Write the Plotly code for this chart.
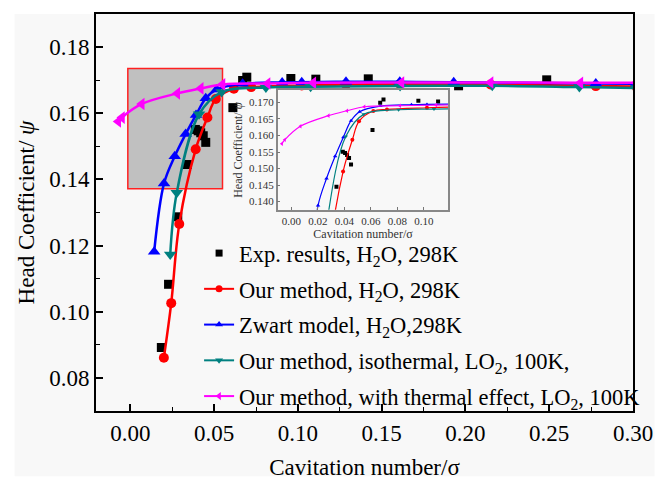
import plotly.graph_objects as go

# ---------------- data ----------------
sigma_exp = [0.0185, 0.0228, 0.0283, 0.0340, 0.0388, 0.0405, 0.0420, 0.0435, 0.0450,
             0.0612, 0.0670, 0.0695, 0.0958, 0.1107, 0.1420, 0.1959, 0.2485]
psi_exp = [0.0892, 0.1083, 0.1287, 0.1445, 0.1551, 0.1547, 0.1541, 0.1532, 0.1512,
           0.1617, 0.1699, 0.1709, 0.1705, 0.1703, 0.1704, 0.1683, 0.1701]

sigma_red = [0.0200, 0.0244, 0.0292, 0.0390, 0.0460, 0.0510, 0.0618, 0.0721, 0.1023,
             0.1287, 0.1610, 0.2150, 0.2778, 0.3020]
psi_red = [0.0861, 0.1026, 0.1265, 0.1491, 0.1587, 0.1643, 0.1674, 0.1679, 0.1684,
           0.1687, 0.1688, 0.1687, 0.1682, 0.1681]

sigma_blue = [0.0142, 0.0201, 0.0265, 0.0330, 0.0392, 0.0450, 0.0515, 0.0670, 0.0906,
              0.1023, 0.1287, 0.1608, 0.1930, 0.2778, 0.3020]
psi_blue = [0.1181, 0.1388, 0.1470, 0.1537, 0.1595, 0.1645, 0.1672, 0.1689, 0.1693,
            0.1694, 0.1695, 0.1695, 0.1694, 0.1690, 0.1689]

sigma_teal = [0.0238, 0.0277, 0.0410, 0.0545, 0.0809, 0.1076, 0.1610, 0.2160, 0.2680, 0.3020]
psi_teal = [0.1173, 0.1360, 0.1597, 0.1664, 0.1678, 0.1680, 0.1682, 0.1683, 0.1679, 0.1676]

sigma_mag = [-0.0072, -0.0050, 0.0068, 0.0280, 0.0420, 0.0550, 0.0819, 0.1092, 0.1618,
             0.2150, 0.2686, 0.3020]
psi_mag = [0.1575, 0.1587, 0.1628, 0.1660, 0.1675, 0.1687, 0.1690, 0.1692, 0.1693,
           0.1693, 0.1692, 0.1692]

names = [
    "Exp. results, H<sub>2</sub>O, 298K",
    "Our method, H<sub>2</sub>O, 298K",
    "Zwart model, H<sub>2</sub>O,298K",
    "Our method, isothermal, LO<sub>2</sub>, 100K,",
    "Our method, with thermal effect, LO<sub>2</sub>, 100K",
]

main_xticks = [0.00, 0.05, 0.10, 0.15, 0.20, 0.25, 0.30]
main_yticks = [0.08, 0.10, 0.12, 0.14, 0.16, 0.18]
inset_xticks = [0.00, 0.02, 0.04, 0.06, 0.08, 0.10]
inset_yticks = [0.140, 0.145, 0.150, 0.155, 0.160, 0.165, 0.170]

# ---------------- styling ----------------
FONT = "Liberation Serif, Times New Roman, serif"
series = [
    (sigma_exp, psi_exp, "#000000", "square", "markers", 9),
    (sigma_red, psi_red, "#ff0000", "circle", "lines+markers", 10),
    (sigma_blue, psi_blue, "#0000ff", "triangle-up", "lines+markers", 11),
    (sigma_teal, psi_teal, "#008080", "triangle-down", "lines+markers", 11),
    (sigma_mag, psi_mag, "#ff00ff", "triangle-left", "lines+markers", 11),
]

fig = go.Figure()

# main traces
for (sx, sy, col, sym, mode, ms) in series:
    fig.add_trace(go.Scatter(
        x=sx, y=sy, mode=mode, showlegend=False,
        line=dict(color=col, width=2.5, shape="spline", smoothing=1.0),
        marker=dict(color=col, symbol=sym, size=ms),
        xaxis="x", yaxis="y"))

# inset traces
for (sx, sy, col, sym, mode, ms) in series:
    fig.add_trace(go.Scatter(
        x=sx, y=sy, mode=mode, showlegend=False,
        line=dict(color=col, width=1.2, shape="spline", smoothing=1.0),
        marker=dict(color=col, symbol=sym, size=4),
        xaxis="x2", yaxis="y2"))

# legend entries
for i, (sx, sy, col, sym, mode, ms) in enumerate(series):
    fig.add_trace(go.Scatter(
        x=[None], y=[None], mode=mode, name=names[i], legendgroup=f"g{i}",
        line=dict(color=col, width=2),
        marker=dict(color=col, symbol=sym, size=7),
        xaxis="x", yaxis="y"))

W, H = 665, 488
L, R, T, B = 96, 22, 13, 67
pw, ph = W - L - R, H - T - B


def px2paper_x(p):
    return (p - L) / pw


def px2paper_y(p):
    return (H - B - p) / ph


fig.update_layout(
    width=W, height=H,
    margin=dict(l=L, r=R, t=T, b=B),
    paper_bgcolor="white",
    plot_bgcolor="rgba(0,0,0,0)",
    font=dict(family=FONT, color="black", size=22),
    showlegend=True,
    legend=dict(
        x=px2paper_x(201), y=px2paper_y(237), xanchor="left", yanchor="top",
        bgcolor="rgba(0,0,0,0)", borderwidth=0,
        font=dict(family=FONT, size=22.5, color="black"),
        tracegroupgap=3.5, traceorder="grouped",
    ),
    xaxis=dict(
        range=[-0.0205, 0.30], tickvals=main_xticks, tickformat=".2f",
        ticks="inside", ticklen=7, tickwidth=1.5, tickcolor="black",
        minor=dict(ticks="inside", ticklen=4, tickwidth=1.2, dtick=0.025, tick0=0, tickcolor="black"),
        showline=True, linecolor="black", linewidth=2, mirror=True,
        showgrid=False, zeroline=False,
        tickfont=dict(family=FONT, size=23),
        title=dict(text="Cavitation number/σ", font=dict(family=FONT, size=23), standoff=14),
    ),
    yaxis=dict(
        range=[0.07, 0.19], tickvals=main_yticks, tickformat=".2f",
        ticks="inside", ticklen=7, tickwidth=1.5, tickcolor="black",
        minor=dict(ticks="inside", ticklen=4, tickwidth=1.2, dtick=0.01, tick0=0.07, tickcolor="black"),
        showline=True, linecolor="black", linewidth=2, mirror=True,
        showgrid=False, zeroline=False,
        tickfont=dict(family=FONT, size=23),
        title=dict(text="Head Coefficient/ <i>ψ</i>", font=dict(family=FONT, size=23), standoff=8),
    ),
    xaxis2=dict(
        domain=[px2paper_x(281), px2paper_x(455)], anchor="y2",
        range=[-0.0104, 0.1185], tickvals=inset_xticks, tickformat=".2f",
        ticks="inside", ticklen=3, tickcolor="#777",
        showline=True, linecolor="#888888", linewidth=1.5, mirror=True,
        showgrid=False, zeroline=False,
        tickfont=dict(family=FONT, size=11, color="#333"),
        title=dict(text="Cavitation number/σ", font=dict(family=FONT, size=12, color="#333"), standoff=4),
    ),
    yaxis2=dict(
        domain=[px2paper_y(214.3), px2paper_y(91)], anchor="x2",
        range=[0.1375, 0.1738], tickvals=inset_yticks, tickformat=".3f",
        ticks="inside", ticklen=3, tickcolor="#777",
        showline=True, linecolor="#888888", linewidth=1.5, mirror=True,
        showgrid=False, zeroline=False,
        tickfont=dict(family=FONT, size=11, color="#333"),
        title=dict(text="Head Coefficient/ <i>ψ</i>", font=dict(family=FONT, size=12, color="#333"), standoff=4),
    ),
    shapes=[
        dict(type="rect", xref="paper", yref="paper",
             x0=px2paper_x(13), x1=px2paper_x(665), y0=px2paper_y(488), y1=px2paper_y(13),
             fillcolor="#f8f8f8", line=dict(width=0), layer="below"),
        dict(type="rect", xref="x", yref="y", x0=-0.0015, x1=0.055, y0=0.1372, y1=0.1735,
             fillcolor="#c0c0c0", line=dict(color="#ff2020", width=1.5), layer="below"),
    ],
)

fig.write_html("out.html")
